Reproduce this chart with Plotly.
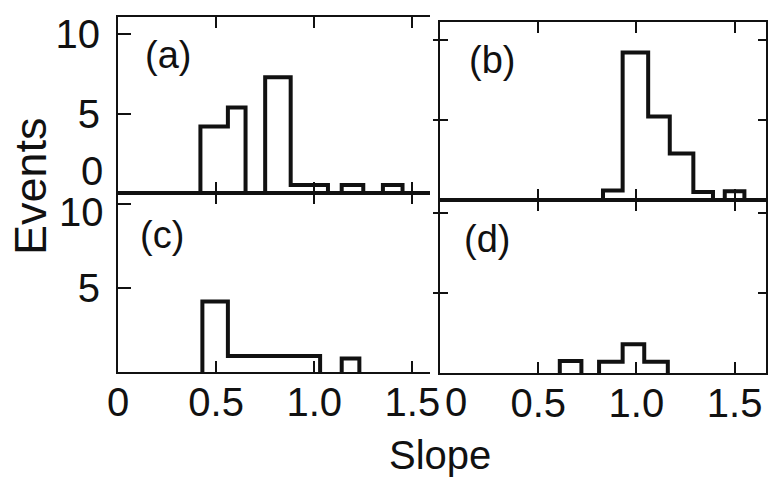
import plotly.graph_objects as go

# ---- data ----
slope_ticks = [0, 0.5, 1.0, 1.5]
slope_labels = ["0", "0.5", "1.0", "1.5"]
event_ticks = [5, 10]
event_labels = ["5", "10"]

# each panel: contiguous groups of bin edges and the counts inside them
a_edges = [[0.42, 0.56, 0.65], [0.75, 0.88, 1.07], [1.14, 1.25], [1.35, 1.45]]
a_counts = [[4.2, 5.4], [7.3, 0.5], [0.5], [0.5]]
b_edges = [[0.83, 0.93, 1.06, 1.17, 1.29, 1.39], [1.45, 1.55]]
b_counts = [[0.6, 9.2, 5.2, 2.9, 0.5], [0.55]]
c_edges = [[0.43, 0.56, 1.03], [1.14, 1.23]]
c_counts = [[4.2, 0.95], [0.8]]
d_edges = [[0.61, 0.72], [0.81, 0.93, 1.04, 1.16]]
d_counts = [[0.75], [0.7, 1.8, 0.7]]

panel_names = ["(a)", "(b)", "(c)", "(d)"]


def outline(edge_groups, count_groups):
    xs, ys = [], []
    for edges, counts in zip(edge_groups, count_groups):
        xs.append(edges[0]); ys.append(0)
        for i, h in enumerate(counts):
            xs += [edges[i], edges[i + 1]]
            ys += [h, h]
        xs.append(edges[-1]); ys.append(0)
        xs.append(None); ys.append(None)
    return xs, ys


W, H = 768, 483
FONT = "Liberation Sans"
INK = "#111111"


def fx(p):
    return p / W


def fy(p):
    return 1 - p / H


fig = go.Figure()
panels = [(a_edges, a_counts, "x", "y"), (b_edges, b_counts, "x2", "y2"),
          (c_edges, c_counts, "x3", "y3"), (d_edges, d_counts, "x4", "y4")]
for e, c, xa, ya in panels:
    xs, ys = outline(e, c)
    fig.add_trace(go.Scatter(x=xs, y=ys, mode="lines", xaxis=xa, yaxis=ya,
                             line=dict(color=INK, width=4), showlegend=False,
                             hoverinfo="skip"))
# dummy traces for the extra tick axes
fig.add_trace(go.Scatter(x=[None], y=[None], xaxis="x2", yaxis="y5", showlegend=False))
fig.add_trace(go.Scatter(x=[None], y=[None], xaxis="x4", yaxis="y6", showlegend=False))

axis_common = dict(showgrid=False, zeroline=False, showline=True, linecolor=INK,
                   linewidth=2, ticks="inside", tickcolor=INK, tickwidth=2,
                   automargin=False,
                   tickfont=dict(family=FONT, size=40, color=INK))

left_dom = [fx(118), fx(430)]
right_dom = [fx(440), fx(766)]

fig.update_layout(
    width=W, height=H, margin=dict(l=0, r=0, t=0, b=0, autoexpand=False),
    paper_bgcolor="white", plot_bgcolor="white",
    xaxis=dict(domain=left_dom, anchor="y", range=[0, 1.59], tickvals=slope_ticks,
               showticklabels=False, ticklen=11, mirror="ticks", **axis_common),
    yaxis=dict(domain=[fy(193), fy(17)], anchor="x", range=[0, 11.1],
               tickvals=event_ticks, ticktext=event_labels, ticklen=13,
               ticklabelstandoff=8, **axis_common),
    xaxis2=dict(domain=right_dom, anchor="y2", range=[0, 1.66], tickvals=slope_ticks,
                showticklabels=False, ticklen=11, mirror="ticks", **axis_common),
    yaxis2=dict(domain=[fy(200), fy(22)], anchor="x2", range=[0, 11.1],
                tickvals=event_ticks, showticklabels=False, ticklen=8,
                mirror="ticks", **axis_common),
    xaxis3=dict(domain=left_dom, anchor="y3", range=[0, 1.59], tickvals=slope_ticks,
                ticktext=slope_labels, ticklen=11, mirror="ticks",
                ticklabelstandoff=-6, **axis_common),
    yaxis3=dict(domain=[fy(372), fy(193)], anchor="x3", range=[0, 10.65],
                tickvals=event_ticks, ticktext=["5", ""], ticklen=13,
                ticklabelstandoff=8, **axis_common),
    xaxis4=dict(domain=right_dom, anchor="y4", range=[0, 1.66], tickvals=slope_ticks,
                ticktext=[""] + slope_labels[1:], ticklen=11, mirror="ticks",
                ticklabelstandoff=-6, **axis_common),
    yaxis4=dict(domain=[fy(373), fy(200)], anchor="x4", range=[0, 10.8],
                tickvals=event_ticks, showticklabels=False, ticklen=8,
                mirror="ticks", **axis_common),
    yaxis5=dict(overlaying="y2", anchor="x2", side="left", range=[0, 11.1],
                tickvals=event_ticks, showticklabels=False, showline=False,
                showgrid=False, zeroline=False, ticks="outside", ticklen=6,
                tickcolor=INK, tickwidth=2, automargin=False),
    yaxis6=dict(overlaying="y4", anchor="x4", side="left", range=[0, 10.8],
                tickvals=event_ticks, showticklabels=False, showline=False,
                showgrid=False, zeroline=False, ticks="outside", ticklen=6,
                tickcolor=INK, tickwidth=2, automargin=False),
)

label_pos = [(168, 55), (492, 60), (162, 235), (487, 239)]
for name, (px, py) in zip(panel_names, label_pos):
    fig.add_annotation(text=name, x=fx(px), y=fy(py), xref="paper", yref="paper",
                       showarrow=False, xanchor="center", yanchor="middle",
                       font=dict(family=FONT, size=38, color=INK))

tick_font = dict(family=FONT, size=40, color=INK)
# zero label of the top-left panel, "10" label of the lower-left panel
fig.add_annotation(text="0", x=fx(92), y=fy(171), xref="paper", yref="paper",
                   showarrow=False, xanchor="center", yanchor="middle", font=tick_font)
fig.add_annotation(text="10", x=fx(106), y=10, xref="paper", yref="y3", yshift=-8,
                   showarrow=False, xanchor="right", yanchor="middle", font=tick_font)
# zero label of the lower-right panel, set apart from the left "1.5"
fig.add_annotation(text="0", x=0, y=0, xref="x4", yref="y4", xshift=16, yshift=-29,
                   showarrow=False, xanchor="center", yanchor="middle", font=tick_font)

fig.add_annotation(text="Events", x=fx(30), y=fy(186), xref="paper", yref="paper",
                   showarrow=False, textangle=-90, xanchor="center", yanchor="middle",
                   font=dict(family=FONT, size=45, color=INK))
fig.add_annotation(text="Slope", x=fx(440), y=fy(455), xref="paper", yref="paper",
                   showarrow=False, xanchor="center", yanchor="middle",
                   font=dict(family=FONT, size=40, color=INK))

fig.write_html("out.html", config={"displayModeBar": False},
               post_script="document.body.style.margin='0';document.body.style.padding='0';")
